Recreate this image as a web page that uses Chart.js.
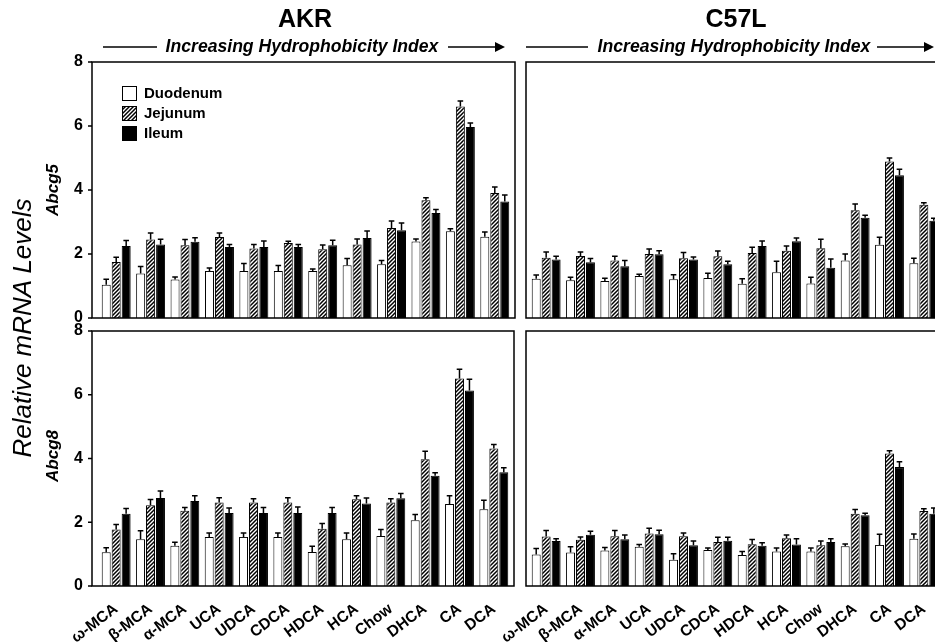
<!DOCTYPE html>
<html>
<head>
<meta charset="utf-8">
<script src="https://cdn.jsdelivr.net/npm/chart.js@4.4.1/dist/chart.umd.min.js"></script>
<style>
  html, body { margin: 0; padding: 0; background: #fff; width: 935px; height: 643px; overflow: hidden; }
  body { position: relative; font-family: "Liberation Sans", Arial, sans-serif; color: #000; }
  canvas { position: absolute; left: 0; top: 0; }
  svg { position: absolute; left: 0; top: 0; }
  .lbl { position: absolute; white-space: nowrap; transform: translate(-50%, -50%); line-height: 1; }
  .rot { transform: translate(-50%, -50%) rotate(-90deg); }
  .strain { font-size: 25px; font-weight: bold; }
  .index { font-size: 17.6px; font-weight: bold; font-style: italic; }
  .gene { font-size: 17px; font-weight: bold; font-style: italic; }
</style>
</head>
<body>
<canvas id="akr5" width="935" height="643"></canvas>
<canvas id="c57l5" width="960" height="643"></canvas>
<canvas id="akr8" width="935" height="643"></canvas>
<canvas id="c57l8" width="960" height="643"></canvas>

<svg width="935" height="643">
  <g stroke="#000" stroke-width="1.5">
    <line x1="103" y1="47" x2="157" y2="47"/>
    <line x1="448" y1="47" x2="498" y2="47"/>
    <line x1="526" y1="47" x2="588" y2="47"/>
    <line x1="877" y1="47" x2="926" y2="47"/>
  </g>
  <polygon points="495,42 505,47 495,52" fill="#000"/>
  <polygon points="924,42 934,47 924,52" fill="#000"/>
</svg>

<div class="lbl strain" style="left:305px; top:18px;">AKR</div>
<div class="lbl strain" style="left:736px; top:18px;">C57L</div>
<div class="lbl index" style="left:302px; top:47px;">Increasing Hydrophobicity Index</div>
<div class="lbl index" style="left:734px; top:47px;">Increasing Hydrophobicity Index</div>
<div class="lbl rot" style="left:22px; top:328px; font-size:26px; font-style:italic;">Relative mRNA Levels</div>
<div class="lbl rot gene" style="left:52px; top:190px;">Abcg5</div>
<div class="lbl rot gene" style="left:52px; top:456px;">Abcg8</div>

<script>
// bile acid diets, ordered by hydrophobicity (Chow in its place)
const categories = ["ω-MCA", "β-MCA", "α-MCA", "UCA", "UDCA", "CDCA", "HDCA", "HCA", "Chow", "DHCA", "CA", "DCA"];
const segments = ["Duodenum", "Jejunum", "Ileum"];
const yTicks = [0, 2, 4, 6, 8];

// AKR - Abcg5
const akrAbcg5Duodenum = [1.04, 1.39, 1.20, 1.47, 1.47, 1.47, 1.47, 1.65, 1.68, 2.39, 2.71, 2.54];
const akrAbcg5Jejunum  = [1.75, 2.45, 2.27, 2.53, 2.17, 2.34, 2.15, 2.30, 2.81, 3.68, 6.61, 3.91];
const akrAbcg5Ileum    = [2.25, 2.30, 2.38, 2.22, 2.22, 2.22, 2.27, 2.50, 2.74, 3.28, 5.97, 3.64];
const akrAbcg5DuodenumSem = [0.17, 0.22, 0.08, 0.09, 0.23, 0.17, 0.06, 0.21, 0.12, 0.08, 0.08, 0.15];
const akrAbcg5JejunumSem  = [0.15, 0.21, 0.18, 0.13, 0.13, 0.06, 0.13, 0.17, 0.22, 0.08, 0.17, 0.18];
const akrAbcg5IleumSem    = [0.17, 0.16, 0.13, 0.08, 0.19, 0.08, 0.16, 0.22, 0.23, 0.11, 0.12, 0.20];

// AKR - Abcg8
const akrAbcg8Duodenum = [1.06, 1.47, 1.26, 1.54, 1.54, 1.54, 1.07, 1.47, 1.57, 2.06, 2.57, 2.41];
const akrAbcg8Jejunum  = [1.77, 2.53, 2.36, 2.62, 2.62, 2.62, 1.80, 2.72, 2.62, 3.98, 6.51, 4.31];
const akrAbcg8Ileum    = [2.27, 2.76, 2.67, 2.29, 2.29, 2.29, 2.29, 2.59, 2.75, 3.46, 6.13, 3.57];
const akrAbcg8DuodenumSem = [0.14, 0.26, 0.11, 0.12, 0.12, 0.12, 0.18, 0.19, 0.20, 0.18, 0.26, 0.28];
const akrAbcg8JejunumSem  = [0.16, 0.18, 0.10, 0.15, 0.12, 0.15, 0.16, 0.11, 0.12, 0.25, 0.29, 0.13];
const akrAbcg8IleumSem    = [0.16, 0.22, 0.16, 0.16, 0.17, 0.19, 0.17, 0.17, 0.15, 0.09, 0.36, 0.14];

// C57L - Abcg5
const c57lAbcg5Duodenum = [1.23, 1.18, 1.16, 1.31, 1.21, 1.25, 1.07, 1.43, 1.08, 1.80, 2.29, 1.71];
const c57lAbcg5Jejunum  = [1.88, 1.94, 1.80, 2.00, 1.87, 1.93, 2.03, 2.10, 2.18, 3.37, 4.89, 3.54];
const c57lAbcg5Ileum    = [1.83, 1.74, 1.62, 1.99, 1.83, 1.68, 2.25, 2.40, 1.57, 3.13, 4.46, 3.04];
const c57lAbcg5DuodenumSem = [0.11, 0.09, 0.08, 0.06, 0.14, 0.15, 0.16, 0.34, 0.19, 0.20, 0.23, 0.16];
const c57lAbcg5JejunumSem  = [0.18, 0.12, 0.13, 0.16, 0.18, 0.16, 0.18, 0.15, 0.28, 0.19, 0.11, 0.06];
const c57lAbcg5IleumSem    = [0.10, 0.12, 0.18, 0.11, 0.08, 0.09, 0.16, 0.10, 0.27, 0.08, 0.19, 0.08];

// C57L - Abcg8
const c57lAbcg8Duodenum = [0.99, 1.05, 1.11, 1.23, 0.82, 1.13, 0.97, 1.08, 1.08, 1.25, 1.29, 1.48];
const c57lAbcg8Jejunum  = [1.55, 1.45, 1.56, 1.65, 1.56, 1.38, 1.31, 1.50, 1.28, 2.27, 4.16, 2.35];
const c57lAbcg8Ileum    = [1.41, 1.61, 1.47, 1.62, 1.28, 1.42, 1.26, 1.30, 1.38, 2.22, 3.73, 2.27];
const c57lAbcg8DuodenumSem = [0.19, 0.18, 0.10, 0.07, 0.19, 0.06, 0.11, 0.11, 0.11, 0.07, 0.33, 0.15];
const c57lAbcg8JejunumSem  = [0.19, 0.09, 0.18, 0.16, 0.10, 0.15, 0.15, 0.10, 0.13, 0.13, 0.08, 0.07];
const c57lAbcg8IleumSem    = [0.07, 0.11, 0.13, 0.13, 0.13, 0.11, 0.10, 0.18, 0.10, 0.06, 0.17, 0.18];

const FONT = '"Liberation Sans", Arial, sans-serif';

// diagonal hatch for the jejunum bars
const makeHatch = () => {
    const c = document.createElement("canvas");
    c.width = 4; c.height = 4;
    const g = c.getContext("2d");
    g.fillStyle = "#fff";
    g.fillRect(0, 0, 4, 4);
    g.strokeStyle = "#000";
    g.lineWidth = 1.5;
    g.beginPath();
    g.moveTo(0, 4); g.lineTo(4, 0);
    g.moveTo(-1, 1); g.lineTo(1, -1);
    g.moveTo(3, 5); g.lineTo(5, 3);
    g.stroke();
    return g.createPattern(c, "repeat");
};
const fills = ["#fff", makeHatch(), "#000"];

// box around the plot, slightly wider than the category range
const framePlugin = {
    id: "frame",
    afterDraw(chart, args, opts) {
        const { ctx, chartArea: a, scales } = chart;
        const left = a.left - opts.padLeft, right = a.right + opts.padRight;
        ctx.save();
        ctx.strokeStyle = "#000";
        ctx.lineWidth = 1.5;
        ctx.strokeRect(left, a.top, right - left, a.bottom - a.top);
        if (opts.ticks) {
            ctx.beginPath();
            yTicks.forEach(v => {
                const y = scales.y.getPixelForValue(v);
                ctx.moveTo(left - 4, y);
                ctx.lineTo(left, y);
            });
            ctx.stroke();
        }
        ctx.restore();
    }
};

// one-sided SEM whiskers
const errorBarPlugin = {
    id: "semBars",
    afterDatasetsDraw(chart) {
        const { ctx, scales } = chart;
        ctx.save();
        ctx.strokeStyle = "#000";
        ctx.lineWidth = 1.5;
        chart.data.datasets.forEach((ds, i) => {
            chart.getDatasetMeta(i).data.forEach((bar, j) => {
                const top = scales.y.getPixelForValue(ds.data[j] + ds.errors[j]);
                ctx.beginPath();
                ctx.moveTo(bar.x, bar.y);
                ctx.lineTo(bar.x, top);
                ctx.moveTo(bar.x - 2.8, top);
                ctx.lineTo(bar.x + 2.8, top);
                ctx.stroke();
            });
        });
        ctx.restore();
    }
};

// key in the upper left of the first panel
const keyPlugin = {
    id: "key",
    afterDraw(chart, args, opts) {
        if (!opts.show) return;
        const ctx = chart.ctx;
        ctx.save();
        ctx.font = "bold 15px " + FONT;
        ctx.textBaseline = "middle";
        chart.data.datasets.forEach((ds, i) => {
            const y = opts.y + i * 20;
            ctx.fillStyle = ds.backgroundColor;
            ctx.fillRect(opts.x, y - 7, 14, 14);
            ctx.strokeStyle = "#000";
            ctx.lineWidth = 1;
            ctx.strokeRect(opts.x + 0.5, y - 6.5, 14, 14);
            ctx.fillStyle = "#000";
            ctx.fillText(ds.label, opts.x + 22, y + 0.5);
        });
        ctx.restore();
    }
};

const makePanel = (id, values, errors, box) => {
    const canvas = document.getElementById(id);
    const W = canvas.width, H = canvas.height;
    const xHeight = box.showX ? 56 : 0;
    return new Chart(canvas, {
        type: "bar",
        data: {
            labels: categories,
            datasets: segments.map((name, i) => ({
                label: name,
                data: values[i],
                errors: errors[i],
                backgroundColor: fills[i],
                borderColor: "#000",
                borderWidth: 1,
                borderSkipped: "start",
                categoryPercentage: 0.87,
                barPercentage: 0.9
            }))
        },
        options: {
            responsive: false,
            animation: false,
            devicePixelRatio: 1,
            layout: {
                padding: {
                    left: box.showY ? 0 : box.left,
                    right: W - box.right,
                    top: box.top,
                    bottom: H - box.bottom - xHeight
                }
            },
            plugins: {
                legend: { display: false },
                tooltip: { enabled: false },
                frame: { padLeft: box.padLeft, padRight: 3, ticks: box.showY },
                key: { show: !!box.key, x: 122, y: 93 }
            },
            scales: {
                x: {
                    display: box.showX,
                    grid: { display: false, drawTicks: false },
                    border: { display: false },
                    ticks: {
                        autoSkip: false,
                        minRotation: 37,
                        maxRotation: 37,
                        padding: 14,
                        color: "#000",
                        font: { family: FONT, size: 15.5, weight: "bold" }
                    },
                    afterFit: s => { s.height = xHeight; }
                },
                y: {
                    display: box.showY,
                    min: 0,
                    max: 8,
                    grid: { display: false, drawTicks: false },
                    border: { display: false },
                    ticks: {
                        stepSize: 2,
                        padding: 16,
                        color: "#000",
                        font: { family: FONT, size: 16, weight: "bold" }
                    },
                    afterFit: s => { s.width = box.showY ? box.left : 0; }
                }
            }
        },
        plugins: [framePlugin, errorBarPlugin, keyPlugin]
    });
};

makePanel("akr5",
    [akrAbcg5Duodenum, akrAbcg5Jejunum, akrAbcg5Ileum],
    [akrAbcg5DuodenumSem, akrAbcg5JejunumSem, akrAbcg5IleumSem],
    { left: 99, right: 512, top: 62, bottom: 318, padLeft: 7, showY: true, showX: false, key: true });

makePanel("c57l5",
    [c57lAbcg5Duodenum, c57lAbcg5Jejunum, c57lAbcg5Ileum],
    [c57lAbcg5DuodenumSem, c57lAbcg5JejunumSem, c57lAbcg5IleumSem],
    { left: 529, right: 941, top: 62, bottom: 318, padLeft: 3, showY: false, showX: false });

makePanel("akr8",
    [akrAbcg8Duodenum, akrAbcg8Jejunum, akrAbcg8Ileum],
    [akrAbcg8DuodenumSem, akrAbcg8JejunumSem, akrAbcg8IleumSem],
    { left: 99, right: 511, top: 331, bottom: 586, padLeft: 7, showY: true, showX: true });

makePanel("c57l8",
    [c57lAbcg8Duodenum, c57lAbcg8Jejunum, c57lAbcg8Ileum],
    [c57lAbcg8DuodenumSem, c57lAbcg8JejunumSem, c57lAbcg8IleumSem],
    { left: 529, right: 941, top: 331, bottom: 586, padLeft: 3, showY: false, showX: true });
</script>
</body>
</html>
